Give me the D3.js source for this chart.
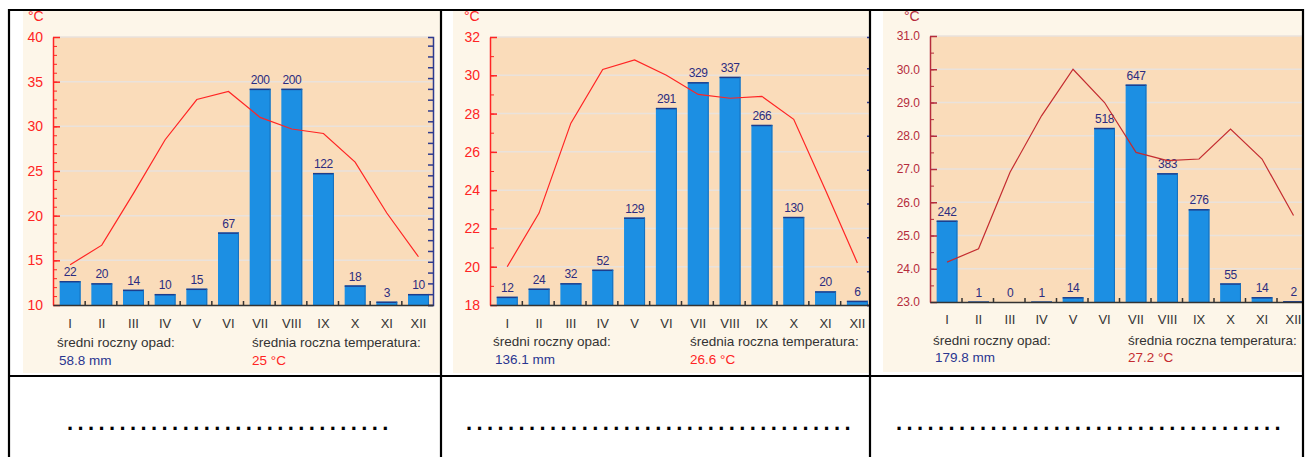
<!DOCTYPE html>
<html>
<head>
<meta charset="utf-8">
<script src="https://cdn.jsdelivr.net/npm/d3@7"></script>
<style>
  body { margin: 0; background: #fff; }
  svg { display: block; }
  text { font-family: "Liberation Sans", Arial, sans-serif; }
</style>
</head>
<body>
<svg id="chart" width="1311" height="457"></svg>
<script>
var months = ['I', 'II', 'III', 'IV', 'V', 'VI', 'VII', 'VIII', 'IX', 'X', 'XI', 'XII'];

var precipA = [22, 20, 14, 10, 15, 67, 200, 200, 122, 18, 3, 10];
var tempA = [14.5, 16.7, 22.5, 28.5, 33.0, 33.9, 31.0, 29.7, 29.2, 26.0, 20.3, 15.4];
var tempTicksA = [10, 15, 20, 25, 30, 35, 40];

var precipB = [12, 24, 32, 52, 129, 291, 329, 337, 266, 130, 20, 6];
var tempB = [20.0, 22.8, 27.5, 30.3, 30.8, 30.0, 29.0, 28.8, 28.9, 27.7, 24.0, 20.2];
var tempTicksB = [18, 20, 22, 24, 26, 28, 30, 32];

var precipC = [242, 1, 0, 1, 14, 518, 647, 383, 276, 55, 14, 2];
var tempC = [24.2, 24.6, 26.9, 28.6, 30.0, 29.0, 27.5, 27.25, 27.3, 28.2, 27.3, 25.6];
var tempTicksC = [23, 24, 25, 26, 27, 28, 29, 30, 31];

var summaryLabels = ['średni roczny opad:', 'średnia roczna temperatura:'];
var annualPrecip = ['58.8 mm', '136.1 mm', '179.8 mm'];
var annualTemp = ['25 °C', '26.6 °C', '27.2 °C'];
var dotCounts = [31, 37, 37];

// layout of the three panels (pixels)
var panels = [
  { precip: precipA, temp: tempA, ticks: tempTicksA, minor: 1, pMax: 248, pStep: 10,
    bg: [23, 11, 440, 373], x: [53, 433], y: [37, 305],
    red: '#ff2424', axisRed: '#ff2424', numFont: '"Liberation Sans", Arial, sans-serif', numSize: 14,
    fmt: d3.format('d'), unit: [28, 21], textX: [57, 252], textY: [347, 365], monthPad: 14 },
  { precip: precipB, temp: tempB, ticks: tempTicksB, minor: 1, pMax: 396, pStep: 50,
    bg: [453, 11, 869, 373], x: [490, 872], y: [37, 305],
    red: '#ff2424', axisRed: '#ff2424', numFont: '"Liberation Sans", Arial, sans-serif', numSize: 14,
    fmt: d3.format('d'), unit: [464, 21], textX: [493, 690], textY: [346, 364], monthPad: 14 },
  { precip: precipC, temp: tempC, ticks: tempTicksC, minor: 0.5, pMax: 792, pStep: 100,
    bg: [883, 11, 1303, 372], x: [930, 1308], y: [36, 302],
    red: '#c42c30', axisRed: '#b52c3c', numFont: '"DejaVu Sans Mono", monospace', numSize: 12,
    fmt: d3.format('.1f'), unit: [904, 21], textX: [933, 1128], textY: [345, 362], monthPad: 13 }
];

var svg = d3.select('#chart');

panels.forEach(function(p, k) {
  var x0 = p.x[0], x1 = p.x[1], yTop = p.y[0], yBot = p.y[1];
  var tLo = p.ticks[0], tHi = p.ticks[p.ticks.length - 1];

  svg.append('clipPath').attr('id', 'clip' + k)
    .append('rect')
    .attr('x', p.bg[0]).attr('y', p.bg[1])
    .attr('width', p.bg[2] - p.bg[0]).attr('height', p.bg[3] - p.bg[1]);

  var g = svg.append('g').attr('clip-path', 'url(#clip' + k + ')');

  g.append('rect')
    .attr('x', p.bg[0]).attr('y', p.bg[1])
    .attr('width', p.bg[2] - p.bg[0]).attr('height', p.bg[3] - p.bg[1])
    .attr('fill', '#fdf6e9');

  var xBand = d3.scaleBand().domain(months).range([x0, x1])
    .paddingInner(0.34).paddingOuter(0.17).align(0.62);
  var xStep = d3.scaleLinear().domain([0, 12]).range([x0, x1]);
  var yT = d3.scaleLinear().domain([tLo, tHi]).range([yBot, yTop]);
  var yP = d3.scaleLinear().domain([0, p.pMax]).range([yBot, yTop]);

  g.append('rect')
    .attr('x', x0).attr('y', yTop)
    .attr('width', x1 - x0).attr('height', yBot - yTop)
    .attr('fill', '#fadcba');

  // grid
  g.selectAll('line.grid')
    .data(p.ticks.slice(1))
    .enter().append('line')
    .attr('class', 'grid')
    .attr('x1', x0).attr('x2', x1)
    .attr('y1', function(d) { return yT(d); })
    .attr('y2', function(d) { return yT(d); })
    .attr('stroke', '#e9e2dc')
    .attr('stroke-width', 1.5);

  // bars
  g.selectAll('rect.bar')
    .data(p.precip)
    .enter().append('rect')
    .attr('class', 'bar')
    .attr('x', function(d, i) { return xBand(months[i]); })
    .attr('y', function(d) { return yP(d); })
    .attr('width', xBand.bandwidth())
    .attr('height', function(d) { return yBot - yP(d); })
    .attr('fill', '#1c8fe3');

  // darker top and right edges of the bars
  p.precip.forEach(function(d, i) {
    if (d <= 0) return;
    g.append('line')
      .attr('x1', xBand(months[i])).attr('x2', xBand(months[i]) + xBand.bandwidth())
      .attr('y1', yP(d) + 0.5).attr('y2', yP(d) + 0.5)
      .attr('stroke', '#1d3d8c').attr('stroke-width', 1.5);
    g.append('line')
      .attr('x1', xBand(months[i]) + xBand.bandwidth() - 0.5).attr('x2', xBand(months[i]) + xBand.bandwidth() - 0.5)
      .attr('y1', yP(d)).attr('y2', yBot)
      .attr('stroke', '#1670bd').attr('stroke-width', 1);
  });

  g.selectAll('text.val')
    .data(p.precip)
    .enter().append('text')
    .attr('class', 'val')
    .attr('x', function(d, i) { return xBand(months[i]) + xBand.bandwidth() / 2; })
    .attr('y', function(d) { return yP(d) - 5; })
    .attr('text-anchor', 'middle')
    .attr('font-size', 12)
    .attr('letter-spacing', -0.4)
    .attr('fill', '#2c2c80')
    .text(function(d) { return d; });

  // temperature line
  var line = d3.line()
    .x(function(d, i) { return xBand(months[i]) + xBand.bandwidth() / 2; })
    .y(function(d) { return yT(d); });

  g.append('path')
    .datum(p.temp)
    .attr('d', line)
    .attr('fill', 'none')
    .attr('stroke', p.red)
    .attr('stroke-width', 1.2);

  // left temperature axis
  var minorTicks = d3.range(tLo, tHi + 0.001, p.minor);
  g.append('g')
    .attr('transform', 'translate(' + x0 + ',0)')
    .call(d3.axisLeft(yT).tickValues(minorTicks).tickSize(-4).tickSizeOuter(0).tickFormat(''))
    .attr('color', p.axisRed)
    .call(function(s) { s.select('.domain').remove(); });

  g.append('g')
    .attr('transform', 'translate(' + x0 + ',0)')
    .call(d3.axisLeft(yT).tickValues(p.ticks).tickSize(-7).tickSizeOuter(0).tickPadding(10).tickFormat(p.fmt))
    .attr('color', p.axisRed)
    .attr('font-family', p.numFont)
    .attr('font-size', p.numSize)
    .call(function(s) { s.selectAll('path, line').attr('stroke-width', 1.5); });

  // right precipitation axis
  g.append('g')
    .attr('transform', 'translate(' + x1 + ',0)')
    .call(d3.axisRight(yP).tickValues(d3.range(0, p.pMax, p.pStep)).tickSize(-5).tickSizeOuter(-5).tickFormat(''))
    .attr('color', '#2e3b8f')
    .call(function(s) { s.selectAll('path, line').attr('stroke-width', 1.5); });

  // bottom axis with small separators
  g.append('g')
    .attr('transform', 'translate(0,' + yBot + ')')
    .call(d3.axisBottom(xStep).tickValues(d3.range(1, 12)).tickSize(-4).tickSizeOuter(0).tickFormat(''))
    .attr('color', '#333')
    .call(function(s) { s.selectAll('path, line').attr('stroke-width', 1.5); });

  g.append('g')
    .attr('transform', 'translate(0,' + yBot + ')')
    .call(d3.axisBottom(xBand).tickSize(0).tickPadding(p.monthPad))
    .attr('color', '#333')
    .attr('font-family', '"Liberation Sans", Arial, sans-serif')
    .attr('font-size', 13)
    .call(function(s) { s.select('.domain').remove(); });

  g.append('text')
    .attr('x', p.unit[0]).attr('y', p.unit[1])
    .attr('font-size', 14)
    .attr('fill', p.axisRed)
    .text('°C');

  // annual summary
  g.append('text')
    .attr('x', p.textX[0]).attr('y', p.textY[0])
    .attr('font-size', 13.5).attr('fill', '#333')
    .text(summaryLabels[0]);
  g.append('text')
    .attr('x', p.textX[1]).attr('y', p.textY[0])
    .attr('font-size', 13.5).attr('fill', '#333')
    .text(summaryLabels[1]);
  g.append('text')
    .attr('x', p.textX[0] + 2).attr('y', p.textY[1])
    .attr('font-size', 13.5).attr('fill', '#2a3590')
    .text(annualPrecip[k]);
  g.append('text')
    .attr('x', p.textX[1]).attr('y', p.textY[1])
    .attr('font-size', 13.5).attr('fill', p.red)
    .text(annualTemp[k]);
});

// dotted answer lines in the lower row
var dotX = [67, 466, 896];
svg.selectAll('text.dots')
  .data(dotCounts)
  .enter().append('text')
  .attr('class', 'dots')
  .attr('x', function(d, i) { return dotX[i]; })
  .attr('y', 430)
  .attr('font-size', 22)
  .attr('font-weight', 'bold')
  .attr('letter-spacing', 4.4)
  .attr('fill', '#000')
  .text(function(d) { return d3.range(d).map(function() { return '.'; }).join(''); });

// table borders
var tbl = svg.append('g').attr('stroke', '#000').attr('stroke-width', 2.2);
[[8, 10, 1304, 10], [8, 376, 1304, 376]].forEach(function(l) {
  tbl.append('line').attr('x1', l[0]).attr('y1', l[1]).attr('x2', l[2]).attr('y2', l[3]);
});
[9, 441, 870, 1303].forEach(function(x) {
  tbl.append('line').attr('x1', x).attr('y1', 9).attr('x2', x).attr('y2', 457);
});
</script>
</body>
</html>
